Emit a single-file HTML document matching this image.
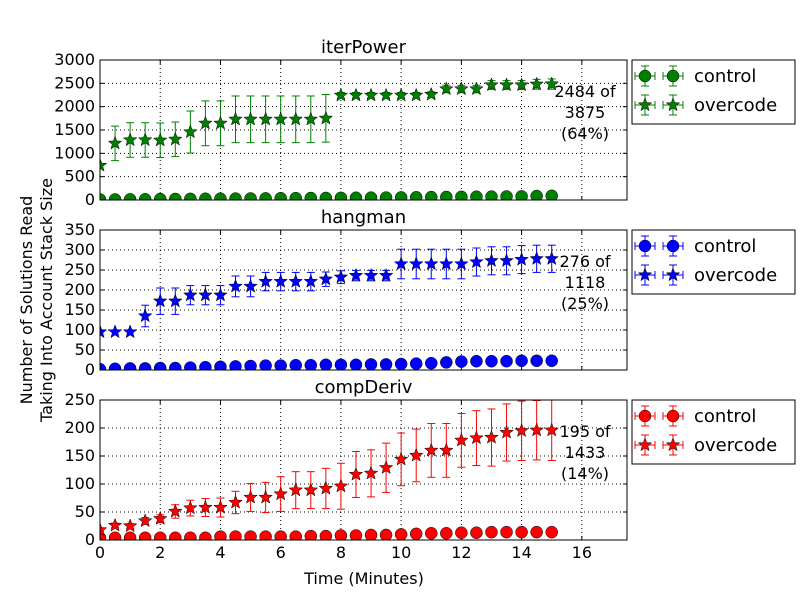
<!DOCTYPE html>
<html><head><meta charset="utf-8"><style>
body{margin:0;background:#fff}
svg{display:block;font-family:"DejaVu Sans","Liberation Sans",sans-serif}
</style></head><body>
<svg id="chart" width="800" height="600" viewBox="0 0 800 600"></svg>
<script>
const times = [0,0.5,1,1.5,2,2.5,3,3.5,4,4.5,5,5.5,6,6.5,7,7.5,8,8.5,9,9.5,10,10.5,11,11.5,12,12.5,13,13.5,14,14.5,15];
const xTicks = [0,2,4,6,8,10,12,14,16];
const iterOver = [740,1214,1286,1286,1280,1300,1457,1643,1643,1729,1729,1729,1729,1729,1729,1750,2243,2243,2243,2243,2243,2243,2260,2379,2379,2379,2464,2464,2464,2480,2484];
const iterOverErr = [0,370,370,370,370,370,450,480,480,500,500,500,500,500,500,510,60,60,60,60,60,60,60,80,80,80,95,95,95,105,110];
const iterCtrl = [10,12,14,16,20,22,24,26,28,30,32,35,38,40,42,44,46,48,50,52,55,58,62,65,68,70,72,75,78,85,90];
const iterCtrlErr = [5,5,5,5,6,6,6,6,7,7,7,8,8,8,8,9,9,9,9,10,10,10,11,11,11,12,12,12,13,13,14];
const hangOver = [95,95,95,135,172,172,187,187,187,209,209,221,221,221,221,227,232,236,236,236,265,265,265,265,265,270,273,273,276,278,278];
const hangOverErr = [0,0,0,27,33,33,24,24,24,26,26,23,23,23,23,18,16,13,13,13,37,37,37,37,37,35,35,35,35,34,34];
const hangCtrl = [2,3,4,4,5,5,6,7,8,9,10,11,11,12,12,13,13,13,14,14,15,16,17,19,21,22,22,22,23,23,23];
const hangCtrlErr = [1,1,1,1,1,1,1,2,2,2,2,2,2,2,3,3,3,3,3,3,4,4,4,5,6,6,6,6,7,7,7];
const derivOver = [18,26,25,34,38,51,57,58,58,67,76,76,82,89,89,92,96,117,119,129,144,151,160,160,178,182,183,192,195,196,196];
const derivOverErr = [3,4,4,6,7,12,14,16,17,20,25,27,31,33,33,36,41,41,42,44,47,47,48,48,48,49,51,51,53,53,54];
const derivCtrl = [4,4,4,4,4,4,4,4,6,6,6,6,6,6,7,7,8,8,9,9,10,11,12,12,13,13,14,14,14,14,14];
const derivCtrlErr = [1,1,1,1,1,1,1,1,2,2,2,2,2,2,2,2,2,2,3,3,3,3,3,3,3,3,3,3,3,3,3];
const panelTitles = ["iterPower","hangman","compDeriv"];
const panelMax = [3000,350,250];
const panelYTicks = [[0,500,1000,1500,2000,2500,3000],[0,50,100,150,200,250,300,350],[0,50,100,150,200,250]];
const panelNotes = [["2484 of","3875","(64%)"],["276 of","1118","(25%)"],["195 of","1433","(14%)"]];
const panelColors = ["#008000","#0000ff","#ff0000"];
const panelTop = [60,230,400];

const svg = document.getElementById('chart');
const NS = "http://www.w3.org/2000/svg";
function mk(tag, attrs, parent){const e=document.createElementNS(NS,tag);for(const k in attrs)e.setAttribute(k,attrs[k]);(parent||svg).appendChild(e);return e;}
const X0=100,X1=627,XMAX=17.5,H=140;
const xs = v => X0 + v*(X1-X0)/XMAX;
function star(cx,cy,r){let p=[];for(let i=0;i<10;i++){const a=-Math.PI/2+i*Math.PI/5;const rr=i%2?r*0.42:r;p.push((cx+rr*Math.cos(a)).toFixed(2)+","+(cy+rr*Math.sin(a)).toFixed(2));}return p.join(" ");}

const datasets = [[iterCtrl,iterCtrlErr,iterOver,iterOverErr],[hangCtrl,hangCtrlErr,hangOver,hangOverErr],[derivCtrl,derivCtrlErr,derivOver,derivOverErr]];

for(let p=0;p<3;p++){
  const top=panelTop[p], bot=top+H, col=panelColors[p], max=panelMax[p];
  const ys = v => bot - v*H/max;
  const g = mk('g',{});
  
  
  xTicks.forEach(t=>{ if(t>0) mk('line',{x1:xs(t),x2:xs(t),y1:top,y2:bot,stroke:'#000','stroke-dasharray':'1,3','stroke-width':1},g); });
  panelYTicks[p].forEach(t=>{ if(t>0&&t<max) mk('line',{x1:X0,x2:X1,y1:ys(t),y2:ys(t),stroke:'#000','stroke-dasharray':'1,3','stroke-width':1},g); });
  panelYTicks[p].forEach(t=>{
    mk('line',{x1:X0,x2:X0+4,y1:ys(t),y2:ys(t),stroke:'#000'},g);
    mk('line',{x1:X1-4,x2:X1,y1:ys(t),y2:ys(t),stroke:'#000'},g);
    const tx=mk('text',{x:X0-5,y:ys(t)+5,'text-anchor':'end','font-size':16},g); tx.textContent=t;
    
    
  });
  xTicks.forEach(t=>{
    mk('line',{x1:xs(t),x2:xs(t),y1:bot,y2:bot-4,stroke:'#000'},g);
    mk('line',{x1:xs(t),x2:xs(t),y1:top,y2:top+4,stroke:'#000'},g);
    if(p===2){const tx=mk('text',{x:xs(t),y:bot+18,'text-anchor':'middle','font-size':16},g);tx.textContent=t;
      
      }
  });
  const tt=mk('text',{x:(X0+X1)/2,y:top-7,'text-anchor':'middle','font-size':18},g); tt.textContent=panelTitles[p];
  
  
  const [cv,ce,ov,oe]=datasets[p];
  const clip='clip'+p;
  const cp=mk('clipPath',{id:clip},g); mk('rect',{x:X0,y:top,width:X1-X0,height:H},cp);
  const sg=mk('g',{'clip-path':'url(#'+clip+')'},g);
  times.forEach((t,i)=>{
    const x=xs(t);
    [[cv[i],ce[i]],[ov[i],oe[i]]].forEach(([v,e])=>{
      if(e>0){mk('line',{x1:x,x2:x,y1:ys(v-e),y2:ys(v+e),stroke:col,'stroke-width':1},sg);
      mk('line',{x1:x-4,x2:x+4,y1:ys(v-e),y2:ys(v-e),stroke:col},sg);
      mk('line',{x1:x-4,x2:x+4,y1:ys(v+e),y2:ys(v+e),stroke:col},sg);}
    });
    const c=mk('circle',{cx:x,cy:ys(cv[i]),r:6,fill:col,stroke:'#000','stroke-width':0.5},sg);
    
    
    const s=mk('polygon',{points:star(x,ys(ov[i]),7),fill:col,stroke:'#000','stroke-width':0.5},sg);
    
    
  });
  mk('rect',{x:X0,y:top,width:X1-X0,height:H,fill:'none',stroke:'#000','stroke-width':1},g);
  panelNotes[p].forEach((s,k)=>{const tx=mk('text',{x:585,y:top+37+k*21,'text-anchor':'middle','font-size':16},g);tx.textContent=s;
    
    });
  const lg=mk('g',{},g);
  
  
  mk('rect',{x:632,y:top,width:163,height:64,fill:'#fff',stroke:'#000','stroke-width':1},lg);
  ['control','overcode'].forEach((name,k)=>{
    const y=top+16+k*29;
    [645,673].forEach(mx=>{
      mk('line',{x1:mx-10,x2:mx+10,y1:y,y2:y,stroke:col},lg);
      mk('line',{x1:mx,x2:mx,y1:y-10,y2:y+10,stroke:col},lg);
      mk('line',{x1:mx-10,x2:mx-10,y1:y-4,y2:y+4,stroke:col},lg);
      mk('line',{x1:mx+10,x2:mx+10,y1:y-4,y2:y+4,stroke:col},lg);
      mk('line',{x1:mx-4,x2:mx+4,y1:y-10,y2:y-10,stroke:col},lg);
      mk('line',{x1:mx-4,x2:mx+4,y1:y+10,y2:y+10,stroke:col},lg);
      if(k===0) mk('circle',{cx:mx,cy:y,r:6,fill:col,stroke:'#000','stroke-width':0.5},lg);
      else mk('polygon',{points:star(mx,y,7),fill:col,stroke:'#000','stroke-width':0.5},lg);
    });
    const tx=mk('text',{x:694,y:y+6,'font-size':18},lg);tx.textContent=name;
    
    
  });
}
const xl=mk('text',{x:364,y:584,'text-anchor':'middle','font-size':16});xl.textContent='Time (Minutes)';


const yl=mk('text',{x:0,y:0,'text-anchor':'middle','font-size':16,transform:'translate(32,300) rotate(-90)'});yl.textContent='Number of Solutions Read';


const yl2=mk('text',{x:0,y:0,'text-anchor':'middle','font-size':16,transform:'translate(52,300) rotate(-90)'});yl2.textContent='Taking Into Account Stack Size';


</script>
</body></html>
